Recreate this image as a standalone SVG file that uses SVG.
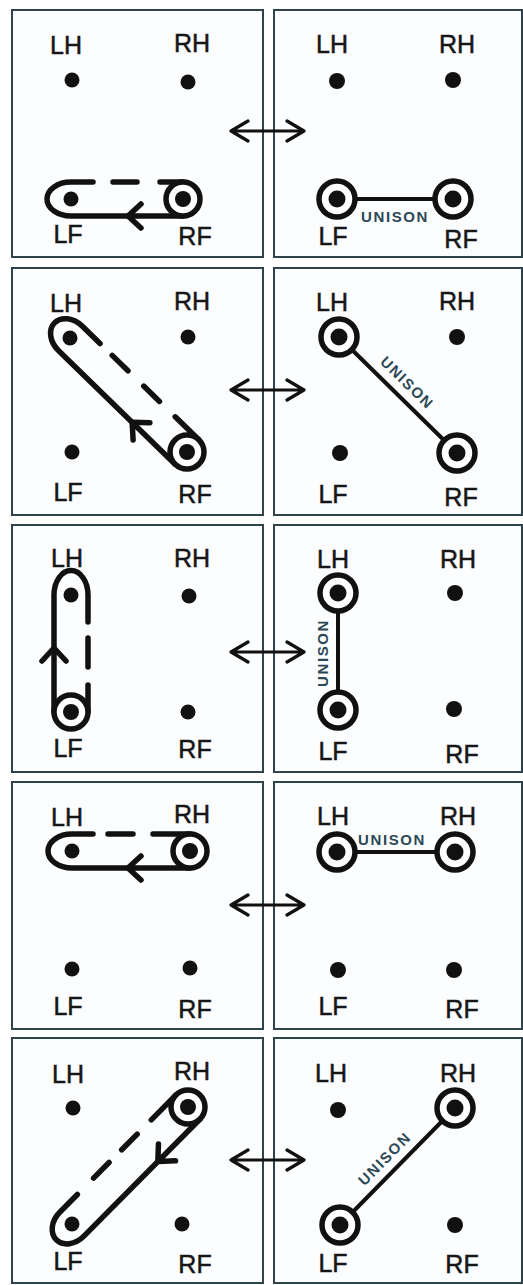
<svg xmlns="http://www.w3.org/2000/svg" width="523" height="1285" viewBox="0 0 523 1285">
<style>
.bg{fill:#ffffff}
.panel{fill:#fcfdff;stroke:#2f434c;stroke-width:2}
.lbl{font-family:"Liberation Sans",Arial,sans-serif;font-size:25px;fill:#161616;stroke:#161616;stroke-width:0.5;text-anchor:middle}
.uni{font-family:"Liberation Sans",Arial,sans-serif;font-size:15px;font-weight:bold;fill:#2c4855;letter-spacing:1.6px;text-anchor:middle}
.dot{fill:#111}
.ring{fill:#fff;stroke:#111;stroke-width:5.5}
.loop{fill:none;stroke:#111;stroke-width:5.5;stroke-linecap:round;stroke-linejoin:round}
.link{stroke:#111;stroke-width:4}
.dbl{fill:none;stroke:#111;stroke-width:3.2;stroke-linecap:round;stroke-linejoin:round}
</style>
<rect class="bg" x="0" y="0" width="523" height="1285"/>

<!-- ROW 1 -->
<g id="row1">
 <g id="r1-panels"><rect class="panel" x="12" y="10" width="251" height="247"/><rect class="panel" x="274" y="10" width="248" height="247"/></g>
 <g id="r1-connectors">
  <g class="loop" transform="translate(183,199)">
   <path d="M0 17 L-112 17 A24 17 0 0 1 -112 -17 L-90 -17"/>
   <path d="M-70 -17 L-46 -17 M-23 -17 L0 -17"/>
   <path d="M-42 5 L-55 17 L-42 29"/>
  </g>
  <path class="dbl" d="M232 131 L302 131 M248 121 L231 131 L248 141 M287 121 L304 131 L287 141"/>
  <line class="link" x1="337" y1="199" x2="453" y2="199"/>
  <text class="uni" x="395" y="222">UNISON</text>
 </g>
 <g id="r1-l-LH"><circle class="dot" cx="72" cy="80" r="7.5"/><text class="lbl" x="66" y="54">LH</text></g>
 <g id="r1-l-RH"><circle class="dot" cx="188" cy="82" r="7.5"/><text class="lbl" x="192" y="52">RH</text></g>
 <g id="r1-l-LF"><circle class="dot" cx="71" cy="199" r="7.5"/><text class="lbl" x="68" y="243">LF</text></g>
 <g id="r1-l-RF"><circle class="ring" cx="183" cy="199" r="17"/><circle class="dot" cx="183" cy="199" r="8"/><text class="lbl" x="195" y="245">RF</text></g>
 <g id="r1-r-LH"><circle class="dot" cx="337" cy="81" r="8"/><text class="lbl" x="332" y="53">LH</text></g>
 <g id="r1-r-RH"><circle class="dot" cx="453" cy="80" r="8"/><text class="lbl" x="457" y="53">RH</text></g>
 <g id="r1-r-LF"><circle class="ring" cx="337" cy="199" r="18"/><circle class="dot" cx="337" cy="199" r="8.5"/><text class="lbl" x="333" y="245">LF</text></g>
 <g id="r1-r-RF"><circle class="ring" cx="453" cy="199" r="18"/><circle class="dot" cx="453" cy="199" r="8.5"/><text class="lbl" x="461" y="248">RF</text></g>
</g>

<!-- ROW 2 -->
<g id="row2" transform="translate(0,258)">
 <g id="r2-panels"><rect class="panel" x="12" y="10" width="251" height="247"/><rect class="panel" x="274" y="10" width="248" height="247"/></g>
 <g id="r2-connectors">
  <g class="loop" transform="translate(187,194) rotate(44.26)">
   <path d="M0 17 L-163 17 A22 17 0 0 1 -163 -17 L-138 -17"/>
   <path d="M-121 -17 L-99 -17 M-77 -17 L-55 -17 M-33 -17 L0 -17"/>
   <path d="M-47 5 L-60 17 L-47 29"/>
  </g>
  <path class="dbl" d="M232 132 L302 132 M248 122 L231 132 L248 142 M287 122 L304 132 L287 142"/>
  <line class="link" x1="339" y1="79" x2="457" y2="195"/>
  <text class="uni" transform="translate(403.5,128.5) rotate(44.5)" x="0" y="0">UNISON</text>
 </g>
 <g id="r2-l-LH"><circle class="dot" cx="70" cy="80" r="7.5"/><text class="lbl" x="66" y="54">LH</text></g>
 <g id="r2-l-RH"><circle class="dot" cx="188" cy="79" r="7.5"/><text class="lbl" x="192" y="52">RH</text></g>
 <g id="r2-l-LF"><circle class="dot" cx="72" cy="194" r="7.5"/><text class="lbl" x="68" y="243">LF</text></g>
 <g id="r2-l-RF"><circle class="ring" cx="187" cy="194" r="17"/><circle class="dot" cx="187" cy="194" r="8"/><text class="lbl" x="195" y="245">RF</text></g>
 <g id="r2-r-LH"><circle class="ring" cx="339" cy="79" r="18"/><circle class="dot" cx="339" cy="79" r="8.5"/><text class="lbl" x="332" y="53">LH</text></g>
 <g id="r2-r-RH"><circle class="dot" cx="457" cy="79" r="8"/><text class="lbl" x="457" y="52">RH</text></g>
 <g id="r2-r-LF"><circle class="dot" cx="340" cy="195" r="8"/><text class="lbl" x="333" y="245">LF</text></g>
 <g id="r2-r-RF"><circle class="ring" cx="457" cy="195" r="18"/><circle class="dot" cx="457" cy="195" r="8.5"/><text class="lbl" x="461" y="248">RF</text></g>
</g>

<!-- ROW 3 -->
<g id="row3" transform="translate(0,515)">
 <g id="r3-panels"><rect class="panel" x="12" y="10" width="251" height="247"/><rect class="panel" x="274" y="10" width="248" height="247"/></g>
 <g id="r3-connectors">
  <g class="loop" transform="translate(71,197) rotate(90)">
   <path d="M0 17 L-117 17 A23 16 0 0 1 -117 -17 L-90 -17"/>
   <path d="M-74 -17 L-45 -17 M-27 -17 L0 -17"/>
   <path d="M-51 5 L-64 17 L-51 29"/>
  </g>
  <path class="dbl" d="M232 137 L302 137 M248 127 L231 137 L248 147 M287 127 L304 137 L287 147"/>
  <line class="link" x1="338" y1="78" x2="338" y2="195"/>
  <text class="uni" transform="translate(328,138) rotate(-90)" x="0" y="0">UNISON</text>
 </g>
 <g id="r3-l-LH"><circle class="dot" cx="71" cy="80" r="7.5"/><text class="lbl" x="67" y="52">LH</text></g>
 <g id="r3-l-RH"><circle class="dot" cx="189" cy="81" r="7.5"/><text class="lbl" x="192" y="52">RH</text></g>
 <g id="r3-l-LF"><circle class="ring" cx="71" cy="197" r="17"/><circle class="dot" cx="71" cy="197" r="8"/><text class="lbl" x="68" y="242">LF</text></g>
 <g id="r3-l-RF"><circle class="dot" cx="188" cy="197" r="7.5"/><text class="lbl" x="195" y="243">RF</text></g>
 <g id="r3-r-LH"><circle class="ring" cx="338" cy="78" r="18"/><circle class="dot" cx="338" cy="78" r="8.5"/><text class="lbl" x="333" y="53">LH</text></g>
 <g id="r3-r-RH"><circle class="dot" cx="455" cy="78" r="8"/><text class="lbl" x="458" y="53">RH</text></g>
 <g id="r3-r-LF"><circle class="ring" cx="338" cy="195" r="18"/><circle class="dot" cx="338" cy="195" r="8.5"/><text class="lbl" x="333" y="245">LF</text></g>
 <g id="r3-r-RF"><circle class="dot" cx="454" cy="194" r="8"/><text class="lbl" x="462" y="248">RF</text></g>
</g>

<!-- ROW 4 -->
<g id="row4" transform="translate(0,772)">
 <g id="r4-panels"><rect class="panel" x="12" y="10" width="251" height="247"/><rect class="panel" x="274" y="10" width="248" height="247"/></g>
 <g id="r4-connectors">
  <g class="loop" transform="translate(190,79)">
   <path d="M0 17 L-118 17 A24 17 0 0 1 -118 -17 L-97 -17"/>
   <path d="M-82 -17 L-57 -17 M-37 -17 L0 -17"/>
   <path d="M-49 5 L-62 17 L-49 29"/>
  </g>
  <path class="dbl" d="M232 133 L302 133 M248 123 L231 133 L248 143 M287 123 L304 133 L287 143"/>
  <line class="link" x1="337" y1="80" x2="455" y2="80"/>
  <text class="uni" x="392" y="73">UNISON</text>
 </g>
 <g id="r4-l-LH"><circle class="dot" cx="72" cy="79" r="7.5"/><text class="lbl" x="67" y="54">LH</text></g>
 <g id="r4-l-RH"><circle class="ring" cx="190" cy="79" r="17"/><circle class="dot" cx="190" cy="79" r="8"/><text class="lbl" x="192" y="51">RH</text></g>
 <g id="r4-l-LF"><circle class="dot" cx="72" cy="197" r="7.5"/><text class="lbl" x="68" y="243">LF</text></g>
 <g id="r4-l-RF"><circle class="dot" cx="190" cy="196" r="7.5"/><text class="lbl" x="195" y="246">RF</text></g>
 <g id="r4-r-LH"><circle class="ring" cx="337" cy="80" r="18"/><circle class="dot" cx="337" cy="80" r="8.5"/><text class="lbl" x="333" y="53">LH</text></g>
 <g id="r4-r-RH"><circle class="ring" cx="455" cy="80" r="18"/><circle class="dot" cx="455" cy="80" r="8.5"/><text class="lbl" x="458" y="53">RH</text></g>
 <g id="r4-r-LF"><circle class="dot" cx="338" cy="198" r="8"/><text class="lbl" x="333" y="243">LF</text></g>
 <g id="r4-r-RF"><circle class="dot" cx="454" cy="198" r="8"/><text class="lbl" x="462" y="246">RF</text></g>
</g>

<!-- ROW 5 -->
<g id="row5" transform="translate(0,1028)">
 <g id="r5-panels"><rect class="panel" x="12" y="10" width="251" height="245"/><rect class="panel" x="274" y="10" width="248" height="245"/></g>
 <g id="r5-connectors">
  <g class="loop" transform="translate(188,79) rotate(-45.25)">
   <path d="M0 17 L-165 17 A22 17 0 0 1 -165 -17 L-140 -17"/>
   <path d="M-117 -17 L-95 -17 M-77 -17 L-55 -17 M-35 -17 L0 -17"/>
   <path d="M-47 5 L-60 17 L-47 29"/>
  </g>
  <path class="dbl" d="M232 132 L302 132 M248 122 L231 132 L248 142 M287 122 L304 132 L287 142"/>
  <line class="link" x1="340" y1="197" x2="455" y2="80"/>
  <text class="uni" transform="translate(388.3,134.3) rotate(-45.5)" x="0" y="0">UNISON</text>
 </g>
 <g id="r5-l-LH"><circle class="dot" cx="73" cy="80" r="7.5"/><text class="lbl" x="68" y="55">LH</text></g>
 <g id="r5-l-RH"><circle class="ring" cx="188" cy="79" r="17"/><circle class="dot" cx="188" cy="79" r="8"/><text class="lbl" x="192" y="52">RH</text></g>
 <g id="r5-l-LF"><circle class="dot" cx="72" cy="196" r="7.5"/><text class="lbl" x="68" y="242">LF</text></g>
 <g id="r5-l-RF"><circle class="dot" cx="182" cy="196" r="7.5"/><text class="lbl" x="195" y="245">RF</text></g>
 <g id="r5-r-LH"><circle class="dot" cx="338" cy="82" r="8"/><text class="lbl" x="331" y="54">LH</text></g>
 <g id="r5-r-RH"><circle class="ring" cx="455" cy="80" r="18"/><circle class="dot" cx="455" cy="80" r="8.5"/><text class="lbl" x="458" y="54">RH</text></g>
 <g id="r5-r-LF"><circle class="ring" cx="340" cy="197" r="18"/><circle class="dot" cx="340" cy="197" r="8.5"/><text class="lbl" x="333" y="244">LF</text></g>
 <g id="r5-r-RF"><circle class="dot" cx="455" cy="197" r="8"/><text class="lbl" x="462" y="245">RF</text></g>
</g>
</svg>
